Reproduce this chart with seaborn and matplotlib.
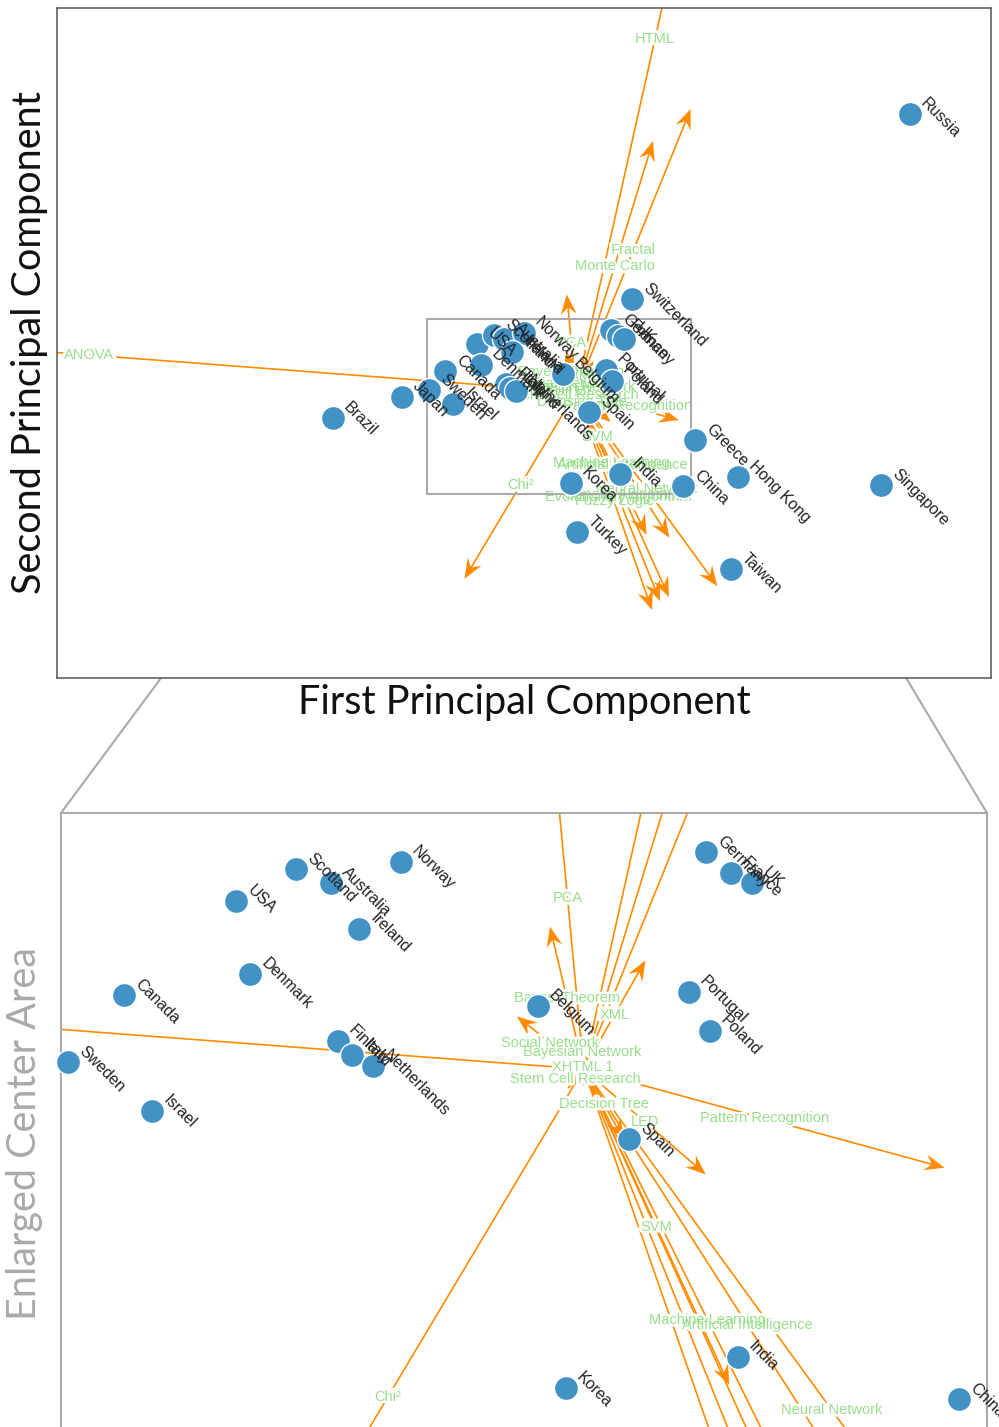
import numpy as np
import pandas as pd
import matplotlib
matplotlib.use("Agg")
import matplotlib.pyplot as plt
import matplotlib.patheffects as pe
from matplotlib.patches import Polygon, Rectangle, ConnectionPatch
import seaborn as sns

# country scores on the first two components
countries = ["USA", "Scotland", "Australia", "Norway", "Ireland", "Denmark", "Canada",
             "Sweden", "Israel", "Finland", "Italy", "Netherlands", "Belgium", "Germany",
             "France", "UK", "Portugal", "Poland", "Spain", "India", "Korea", "China",
             "Russia", "Switzerland", "Brazil", "Japan", "Greece", "Hong Kong",
             "Singapore", "Turkey", "Taiwan"]
pc1 = [-0.99, -0.82, -0.72, -0.52, -0.64, -0.95, -1.31,
       -1.47, -1.23, -0.70, -0.66, -0.60, -0.13, 0.35,
       0.42, 0.48, 0.30, 0.36, 0.13, 0.44, -0.05, 1.07,
       3.34, 0.56, -2.43, -1.74, 1.19, 1.62,
       3.05, 0.01, 1.55]
pc2 = [0.48, 0.57, 0.53, 0.59, 0.40, 0.27, 0.21,
       0.02, -0.12, 0.08, 0.04, 0.01, 0.18, 0.62,
       0.56, 0.53, 0.22, 0.11, -0.20, -0.82, -0.91, -0.94,
       2.78, 0.93, -0.26, -0.05, -0.48, -0.85,
       -0.93, -1.40, -1.77]

# term loadings (arrow tips)
terms = ["HTML", "Fractal", "Monte Carlo", "ANOVA", "PCA", "Bayes' Theorem",
         "Social Network", "XML", "Bayesian Network", "XHTML 1", "Stem Cell Research",
         "Decision Tree", "LED", "Pattern Recognition", "SVM", "Machine Learning",
         "Artificial Intelligence", "Neural Network", "Chi²", "Fuzzy Logic",
         "Evolutionary Algorithm", "Genetic Algorithm"]
load1 = [1.58, 1.147, 0.77, -9.74, -0.092, -0.096,
         -0.19, 0.176, -0.006, -0.006, -0.046,
         0.114, 0.348, 1.029, 0.415, 0.706,
         0.934, 1.414, -1.116, 0.76,
         0.84, 0.93]
load2 = [7.06, 2.83, 2.51, 0.74, 0.976, 0.406,
         0.15, 0.31, 0.10, 0.012, -0.056,
         -0.198, -0.30, -0.281, -0.90, -1.428,
         -1.458, -1.942, -1.868, -2.18,
         -2.09, -2.05]

BLUE = "#4292c6"
ORANGE = "#ff8c00"
GREEN = "#98df8a"

TOP_X, TOP_Y = (-5.19, 4.15), (-2.86, 3.84)
ZOOM_X, ZOOM_Y = (-1.49, 1.15), (-1.02, 0.73)

sns.set_theme(style="white")
plt.rcParams["font.family"] = ["Liberation Sans", "DejaVu Sans"]

df = pd.DataFrame({"country": countries, "pc1": pc1, "pc2": pc2})

fig = plt.figure(figsize=(9.99, 14.27), dpi=100)
ax_top = fig.add_axes([57 / 999, 1 - 678 / 1427, 934 / 999, 670 / 1427])
ax_zoom = fig.add_axes([61 / 999, 0, 926 / 999, 614 / 1427])


def inside(ax, x, y):
    x0, x1 = ax.get_xlim()
    y0, y1 = ax.get_ylim()
    return x0 <= x <= x1 and y0 <= y <= y1


def draw_panel(ax, xlim, ylim):
    ax.set_xlim(*xlim)
    ax.set_ylim(*ylim)
    ppu = ax.get_position().width * fig.get_figwidth() * fig.dpi / (xlim[1] - xlim[0])

    # arrows
    for lx, ly in zip(load1, load2):
        ang = np.arctan2(ly, lx)
        u = np.array([np.cos(ang), np.sin(ang)])
        n = np.array([-u[1], u[0]])
        tip = np.array([lx, ly])
        L, W, N = 20 / ppu, 8 / ppu, 13 / ppu
        ax.plot([0, tip[0] - u[0] * N], [0, tip[1] - u[1] * N], color=ORANGE, lw=1.2, zorder=1)
        head = [tip, tip - L * u + W * n, tip - N * u, tip - L * u - W * n]
        ax.add_patch(Polygon(head, closed=True, fc=ORANGE, ec="none", zorder=1.2))

    # term labels at the middle of each arrow: halo first, then text
    for t, lx, ly in zip(terms, load1, load2):
        if inside(ax, lx / 2, ly / 2):
            ax.text(lx / 2, ly / 2, t, color="white", fontsize=10.5, ha="center", va="center",
                    zorder=2, path_effects=[pe.withStroke(linewidth=4, foreground="white")])
    for t, lx, ly in zip(terms, load1, load2):
        if inside(ax, lx / 2, ly / 2):
            ax.text(lx / 2, ly / 2, t, color=GREEN, fontsize=10.5, ha="center", va="center", zorder=3)

    sub = df[[inside(ax, x, y) for x, y in zip(df.pc1, df.pc2)]]
    sns.scatterplot(data=sub, x="pc1", y="pc2", s=300, color=BLUE, edgecolor="white",
                    linewidth=1, ax=ax, zorder=4, legend=False, clip_on=False)
    for _, r in sub.iterrows():
        ax.annotate(r.country, (r.pc1, r.pc2), xytext=(9.5, 9.5), textcoords="offset points",
                    rotation=-45, rotation_mode="anchor", ha="left", va="center",
                    fontsize=11.5, color="#222222", zorder=5, annotation_clip=False)

    ax.set_xticks([])
    ax.set_yticks([])
    ax.set_xlabel("")
    ax.set_ylabel("")


draw_panel(ax_top, TOP_X, TOP_Y)
draw_panel(ax_zoom, ZOOM_X, ZOOM_Y)

for s in ax_top.spines.values():
    s.set_color("#555555")
    s.set_linewidth(1.1)
for s in ax_zoom.spines.values():
    s.set_color("#aaaaaa")
    s.set_linewidth(1.5)
ax_zoom.spines["bottom"].set_visible(False)

ax_top.add_patch(Rectangle((ZOOM_X[0], ZOOM_Y[0]), ZOOM_X[1] - ZOOM_X[0], ZOOM_Y[1] - ZOOM_Y[0],
                           fill=False, ec="#aaaaaa", lw=1.5, zorder=3.5))
for xa, xb in [(ZOOM_X[0], 0), (ZOOM_X[1], 1)]:
    con = ConnectionPatch(xyA=(xa, ZOOM_Y[1]), coordsA=ax_top.transData,
                          xyB=(xb, 1), coordsB=ax_zoom.transAxes, color="#aaaaaa", lw=1.5)
    con.set_zorder(-1)
    fig.add_artist(con)

lab = dict(family=["Lato", "DejaVu Sans"], fontsize=28.5)
fig.text(524 / 999, 1 - 714 / 1427, "First Principal Component", ha="center", va="baseline",
         color="#111111", **lab)
fig.text(41 / 999, 1 - 342 / 1427, "Second Principal Component", ha="center", va="baseline",
         rotation=90, rotation_mode="anchor", color="#111111", **lab)
fig.text(36 / 999, 1 - 1133 / 1427, "Enlarged Center Area", ha="center", va="baseline",
         rotation=90, rotation_mode="anchor", color="#aaaaaa", **lab)

fig.savefig("out.png", dpi=100)
